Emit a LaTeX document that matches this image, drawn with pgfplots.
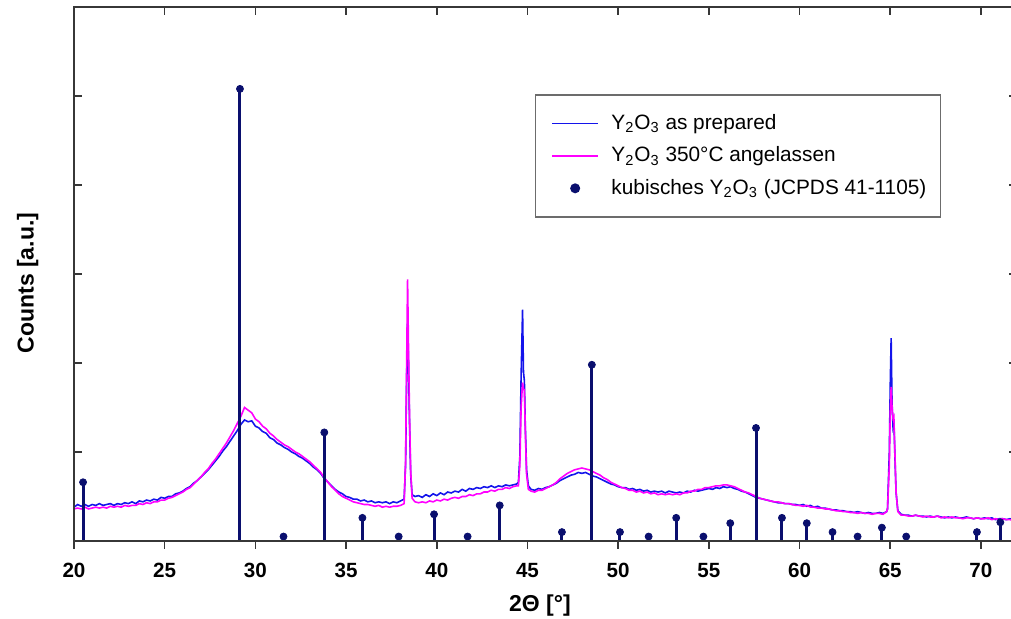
\documentclass[border=0pt]{standalone}
\usepackage{fontspec}
\setmainfont{Liberation Sans}
\usepackage{pgfplots}
\usepackage{pgfplotstable}
\pgfplotsset{compat=1.18}

\definecolor{xblue}{RGB}{20,20,235}
\definecolor{xmag}{RGB}{255,0,255}
\definecolor{navy}{RGB}{10,15,110}
\definecolor{frame}{RGB}{55,55,55}

\begin{document}
% Y2O3 as prepared
\pgfplotstableread{
x y
20.0 0.38
20.2 0.41
20.4 0.39
20.6 0.41
20.8 0.39
21.0 0.41
21.2 0.40
21.4 0.42
21.6 0.40
21.8 0.41
22.0 0.42
22.2 0.40
22.4 0.42
22.6 0.41
22.8 0.43
23.0 0.42
23.2 0.44
23.4 0.42
23.6 0.45
23.8 0.44
24.0 0.46
24.2 0.45
24.4 0.47
24.6 0.46
24.8 0.49
25.0 0.48
25.2 0.50
25.4 0.50
25.6 0.53
25.8 0.54
26.0 0.56
26.2 0.59
26.4 0.61
26.6 0.65
26.8 0.68
27.0 0.72
27.2 0.76
27.4 0.80
27.6 0.85
27.8 0.90
28.0 0.95
28.2 1.01
28.4 1.06
28.6 1.12
28.8 1.18
29.0 1.24
29.2 1.31
29.4 1.36
29.6 1.34
29.8 1.35
30.0 1.29
30.2 1.27
30.4 1.23
30.6 1.21
30.8 1.16
31.0 1.14
31.2 1.10
31.4 1.08
31.6 1.05
31.8 1.03
32.0 1.00
32.2 0.98
32.4 0.95
32.6 0.93
32.8 0.90
33.0 0.87
33.2 0.83
33.4 0.80
33.6 0.76
33.8 0.70
34.0 0.66
34.2 0.62
34.4 0.58
34.6 0.55
34.8 0.53
35.0 0.50
35.2 0.49
35.4 0.47
35.6 0.47
35.8 0.45
36.0 0.46
36.2 0.44
36.4 0.45
36.6 0.43
36.8 0.44
37.0 0.43
37.2 0.44
37.4 0.42
37.6 0.44
37.8 0.43
38.0 0.45
38.2 0.47
38.28 0.85
38.34 1.85
38.39 2.45
38.44 2.00
38.50 1.30
38.56 0.75
38.64 0.52
38.8 0.50
39.0 0.51
39.2 0.49
39.4 0.52
39.6 0.50
39.8 0.53
40.0 0.51
40.2 0.54
40.4 0.52
40.6 0.55
40.8 0.54
41.0 0.56
41.2 0.55
41.4 0.58
41.6 0.56
41.8 0.59
42.0 0.58
42.2 0.60
42.4 0.59
42.6 0.61
42.8 0.60
43.0 0.62
43.2 0.60
43.4 0.62
43.6 0.61
43.8 0.63
44.0 0.62
44.2 0.63
44.4 0.64
44.50 0.66
44.58 0.95
44.65 1.85
44.73 2.60
44.78 1.90
44.83 1.80
44.88 1.30
44.95 0.80
45.05 0.62
45.2 0.58
45.4 0.57
45.6 0.59
45.8 0.58
46.0 0.60
46.2 0.61
46.4 0.63
46.6 0.65
46.8 0.68
47.0 0.70
47.2 0.72
47.4 0.74
47.6 0.75
47.8 0.77
48.0 0.76
48.2 0.77
48.4 0.75
48.6 0.73
48.8 0.72
49.0 0.70
49.2 0.68
49.4 0.66
49.6 0.64
49.8 0.63
50.0 0.61
50.2 0.60
50.4 0.60
50.6 0.58
50.8 0.59
51.0 0.57
51.2 0.58
51.4 0.56
51.6 0.57
51.8 0.55
52.0 0.56
52.2 0.55
52.4 0.56
52.6 0.54
52.8 0.56
53.0 0.55
53.2 0.54
53.4 0.55
53.6 0.54
53.8 0.56
54.0 0.55
54.2 0.57
54.4 0.56
54.6 0.57
54.8 0.58
55.0 0.59
55.2 0.58
55.4 0.60
55.6 0.59
55.8 0.61
56.0 0.60
56.2 0.61
56.4 0.59
56.6 0.58
56.8 0.56
57.0 0.55
57.2 0.53
57.4 0.51
57.6 0.49
57.8 0.48
58.0 0.47
58.2 0.46
58.4 0.45
58.6 0.44
58.8 0.43
59.0 0.43
59.2 0.42
59.4 0.42
59.6 0.41
59.8 0.41
60.0 0.40
60.2 0.41
60.4 0.39
60.6 0.40
60.8 0.38
61.0 0.39
61.2 0.37
61.4 0.37
61.6 0.36
61.8 0.35
62.0 0.35
62.2 0.34
62.4 0.34
62.6 0.33
62.8 0.33
63.0 0.32
63.2 0.33
63.4 0.32
63.6 0.31
63.8 0.32
64.0 0.31
64.2 0.31
64.4 0.32
64.6 0.31
64.8 0.33
64.85 0.36
64.95 1.00
65.00 1.75
65.05 2.28
65.10 1.55
65.15 1.30
65.20 1.36
65.25 1.00
65.32 0.55
65.42 0.34
65.6 0.30
65.8 0.29
66.0 0.29
66.2 0.28
66.4 0.29
66.6 0.28
66.8 0.28
67.0 0.27
67.2 0.28
67.4 0.27
67.6 0.28
67.8 0.27
68.0 0.26
68.2 0.27
68.4 0.26
68.6 0.27
68.8 0.26
69.0 0.26
69.2 0.27
69.4 0.26
69.6 0.25
69.8 0.26
70.0 0.25
70.2 0.26
70.4 0.25
70.6 0.26
70.8 0.24
71.0 0.25
71.2 0.25
71.4 0.24
71.6 0.25
71.8 0.24
72.0 0.24
}\asprepared
% Y2O3 annealed at 350 C
\pgfplotstableread{
x y
20.0 0.36
20.2 0.37
20.4 0.36
20.6 0.38
20.8 0.36
21.0 0.37
21.2 0.38
21.4 0.37
21.6 0.38
21.8 0.37
22.0 0.39
22.2 0.38
22.4 0.39
22.6 0.38
22.8 0.40
23.0 0.39
23.2 0.40
23.4 0.40
23.6 0.42
23.8 0.41
24.0 0.43
24.2 0.42
24.4 0.44
24.6 0.44
24.8 0.46
25.0 0.46
25.2 0.48
25.4 0.49
25.6 0.51
25.8 0.53
26.0 0.55
26.2 0.58
26.4 0.60
26.6 0.64
26.8 0.68
27.0 0.72
27.2 0.77
27.4 0.81
27.6 0.87
27.8 0.92
28.0 0.98
28.2 1.04
28.4 1.10
28.6 1.17
28.8 1.24
29.0 1.32
29.2 1.40
29.4 1.50
29.6 1.47
29.8 1.44
30.0 1.37
30.2 1.34
30.4 1.29
30.6 1.26
30.8 1.21
31.0 1.18
31.2 1.14
31.4 1.11
31.6 1.08
31.8 1.06
32.0 1.03
32.2 1.00
32.4 0.98
32.6 0.95
32.8 0.92
33.0 0.89
33.2 0.85
33.4 0.81
33.6 0.77
33.8 0.71
34.0 0.66
34.2 0.61
34.4 0.57
34.6 0.53
34.8 0.50
35.0 0.48
35.2 0.46
35.4 0.44
35.6 0.43
35.8 0.42
36.0 0.41
36.2 0.41
36.4 0.40
36.6 0.39
36.8 0.40
37.0 0.38
37.2 0.39
37.4 0.38
37.6 0.39
37.8 0.39
38.0 0.40
38.2 0.42
38.28 0.90
38.34 2.00
38.39 2.94
38.44 2.20
38.50 1.40
38.56 0.80
38.64 0.48
38.8 0.44
39.0 0.43
39.2 0.44
39.4 0.43
39.6 0.45
39.8 0.44
40.0 0.46
40.2 0.45
40.4 0.47
40.6 0.46
40.8 0.48
41.0 0.49
41.2 0.48
41.4 0.50
41.6 0.50
41.8 0.52
42.0 0.51
42.2 0.53
42.4 0.53
42.6 0.55
42.8 0.55
43.0 0.57
43.2 0.56
43.4 0.58
43.6 0.58
43.8 0.60
44.0 0.59
44.2 0.61
44.4 0.62
44.50 0.62
44.58 0.85
44.65 1.50
44.73 1.78
44.78 1.70
44.83 1.70
44.88 1.25
44.95 0.75
45.05 0.58
45.2 0.56
45.4 0.55
45.6 0.57
45.8 0.57
46.0 0.59
46.2 0.61
46.4 0.63
46.6 0.66
46.8 0.70
47.0 0.73
47.2 0.76
47.4 0.78
47.6 0.80
47.8 0.81
48.0 0.82
48.2 0.81
48.4 0.80
48.6 0.78
48.8 0.76
49.0 0.74
49.2 0.71
49.4 0.69
49.6 0.66
49.8 0.64
50.0 0.62
50.2 0.60
50.4 0.59
50.6 0.57
50.8 0.57
51.0 0.55
51.2 0.56
51.4 0.54
51.6 0.55
51.8 0.53
52.0 0.54
52.2 0.52
52.4 0.53
52.6 0.52
52.8 0.53
53.0 0.52
53.2 0.53
53.4 0.52
53.6 0.54
53.8 0.54
54.0 0.56
54.2 0.56
54.4 0.58
54.6 0.58
54.8 0.60
55.0 0.60
55.2 0.61
55.4 0.62
55.6 0.62
55.8 0.63
56.0 0.63
56.2 0.62
56.4 0.61
56.6 0.59
56.8 0.57
57.0 0.55
57.2 0.54
57.4 0.52
57.6 0.50
57.8 0.48
58.0 0.47
58.2 0.46
58.4 0.45
58.6 0.44
58.8 0.44
59.0 0.43
59.2 0.42
59.4 0.42
59.6 0.41
59.8 0.40
60.0 0.40
60.2 0.39
60.4 0.40
60.6 0.38
60.8 0.38
61.0 0.37
61.2 0.37
61.4 0.36
61.6 0.36
61.8 0.35
62.0 0.34
62.2 0.34
62.4 0.33
62.6 0.33
62.8 0.32
63.0 0.32
63.2 0.31
63.4 0.32
63.6 0.31
63.8 0.31
64.0 0.30
64.2 0.31
64.4 0.31
64.6 0.30
64.8 0.33
64.85 0.36
64.95 0.85
65.00 1.45
65.05 1.73
65.10 1.50
65.15 1.38
65.20 1.40
65.25 1.05
65.32 0.55
65.42 0.33
65.6 0.29
65.8 0.29
66.0 0.28
66.2 0.28
66.4 0.29
66.6 0.28
66.8 0.27
67.0 0.28
67.2 0.27
67.4 0.27
67.6 0.28
67.8 0.26
68.0 0.27
68.2 0.26
68.4 0.27
68.6 0.26
68.8 0.26
69.0 0.25
69.2 0.26
69.4 0.26
69.6 0.25
69.8 0.26
70.0 0.25
70.2 0.25
70.4 0.26
70.6 0.24
70.8 0.25
71.0 0.24
71.2 0.25
71.4 0.24
71.6 0.24
71.8 0.23
72.0 0.24
}\annealed
% cubic Y2O3 reference lines (JCPDS 41-1105)
\pgfplotstableread{
x y
20.50 0.66
29.15 5.08
31.55 0.05
33.80 1.22
35.90 0.26
37.90 0.05
39.85 0.30
41.70 0.05
43.47 0.40
46.90 0.10
48.55 1.98
50.10 0.10
51.68 0.05
53.20 0.26
54.70 0.05
56.18 0.20
57.60 1.27
59.03 0.26
60.40 0.20
61.82 0.10
63.20 0.05
64.54 0.15
65.88 0.05
69.78 0.10
71.07 0.21
}\jcpds
\begin{tikzpicture}
\useasboundingbox (-37pt,-39pt) rectangle (468.5pt,270.5pt);
\clip (-37pt,-39pt) rectangle (468.5pt,270.5pt);
\begin{axis}[
  scale only axis, width=471.6pt, height=267pt,
  xmin=20, xmax=72, ymin=0, ymax=6,
  axis line style={frame, line width=0.75pt},
  tick style={frame, line width=0.75pt},
  major tick length=4pt,
  xtick={20,25,...,70}, xtick pos=bottom, xtick align=outside,
  ytick={0,...,6}, yticklabels={}, ytick pos=both, ytick align=inside,
  /pgf/number format/assume math mode=true,
  xticklabel style={font=\bfseries\fontsize{10.3}{12}\selectfont, yshift=-3.5pt},
  xlabel={2Θ [°]},
  ylabel={Counts [a.u.]},
  xlabel style={font=\bfseries\fontsize{11.5}{13}\selectfont, at={(axis description cs:0.494,-0.12)}, anchor=center},
  ylabel style={font=\bfseries\fontsize{11.5}{13}\selectfont, at={(axis description cs:-0.049,0.483)}, anchor=center},
  legend image code/.code={\path (-2.6pt,0pt); \draw[#1] (0pt,0pt) -- (23pt,0pt);},
  legend style={at={(0.9194,0.837)}, anchor=north east, draw=gray!85!black, line width=0.8pt,
    font=\fontsize{10.4}{12}\selectfont, inner xsep=5pt, inner ysep=7.75pt, row sep=3.2pt,
    column sep=3.9pt, cells={anchor=west}},
]
\addplot[xblue, line width=0.8pt] table[x=x, y=y] {\asprepared};
\addlegendentry{Y\textsubscript{2}O\textsubscript{3} as prepared}
\addplot[xmag, line width=0.8pt] table[x=x, y=y] {\annealed};
\addlegendentry{Y\textsubscript{2}O\textsubscript{3} 350°C angelassen}
\addplot[navy, ycomb, line width=1.5pt, mark=*, mark size=1.75pt, mark options={solid, fill=navy, line width=0.4pt},
  legend image code/.code={\path (-2.6pt,0pt) (23pt,0pt); \fill[navy] (11.5pt,0pt) circle (1.7pt);}] table[x=x, y=y] {\jcpds};
\addlegendentry{kubisches Y\textsubscript{2}O\textsubscript{3} (JCPDS 41-1105)}
\end{axis}
% top ticks pointing into the frame
\begin{axis}[
  scale only axis, width=471.6pt, height=267pt,
  xmin=20, xmax=72, ymin=0, ymax=6,
  axis line style={frame, line width=0.75pt},
  tick style={frame, line width=0.75pt},
  major tick length=4pt,
  xtick={20,25,...,70}, xtick pos=top, xtick align=inside, xticklabels={},
  ytick=\empty,
]
\end{axis}
\end{tikzpicture}
\end{document}
